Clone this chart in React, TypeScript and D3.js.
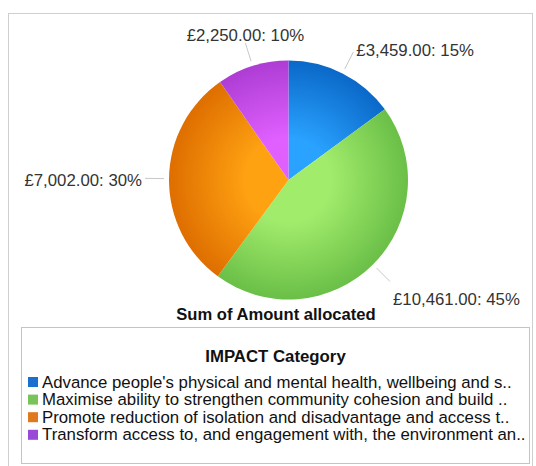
import React from "react";
import * as d3 from "d3";

const categories = [
  "Advance people's physical and mental health, wellbeing and s..",
  "Maximise ability to strengthen community cohesion and build ..",
  "Promote reduction of isolation and disadvantage and access t..",
  "Transform access to, and engagement with, the environment an..",
];
const amounts = [3459, 10461, 7002, 2250];
const sliceInner = ["#2aa2ff", "#a2ec6c", "#ffa212", "#e060ff"];
const sliceOuter = ["#0a68c8", "#6abf47", "#de6e00", "#ae3dd4"];
const legendColors = ["#1a6fcf", "#78c45a", "#e0781e", "#9a48d8"];
const chartTitle = "Sum of Amount allocated";
const legendTitle = "IMPACT Category";

const W = 536;
const H = 466;
const cx = 288.5;
const cy = 180;
const R = 119.5;
const FONT = "'Liberation Sans', Arial, sans-serif";

export default function App() {
  const total = d3.sum(amounts);
  const pie = d3.pie<number>().sort(null).value((d) => d)(amounts);
  const arc = d3.arc<d3.PieArcDatum<number>>().innerRadius(0).outerRadius(R);
  const fmt = d3.format(",.2f");

  return (
    <svg
      width={W}
      height={H}
      style={{ position: "absolute", left: 0, top: 0, background: "#fff" }}
      fontFamily={FONT}
    >
      <defs>
        {amounts.map((_, i) => (
          <radialGradient
            key={i}
            id={`g${i}`}
            gradientUnits="userSpaceOnUse"
            cx={0}
            cy={0}
            r={R}
          >
            <stop offset="0%" stopColor={sliceInner[i]} />
            <stop offset="35%" stopColor={sliceInner[i]} />
            <stop offset="100%" stopColor={sliceOuter[i]} />
          </radialGradient>
        ))}
      </defs>
      <rect x={8.5} y={13.5} width={524} height={470} fill="#fff" stroke="#cfcfcf" />
      <g transform={`translate(${cx},${cy})`}>
        {pie.map((p, i) => (
          <path key={i} d={arc(p) || ""} fill={`url(#g${i})`} />
        ))}
        {pie.map((p, i) => {
          const a = (p.startAngle + p.endAngle) / 2;
          const s = Math.sin(a);
          const c = Math.cos(a);
          const r1 = R + 5;
          const r2 = R + 24;
          const x2 = s * r2;
          const y2 = -c * r2;
          let anchor: "start" | "middle" | "end" = "middle";
          let tx = x2;
          let ty = y2;
          if (Math.abs(s) < 0.35) {
            anchor = "middle";
            ty = y2 + (c > 0 ? -8 : 12);
          } else {
            anchor = s > 0 ? "start" : "end";
            tx = x2 + (s > 0 ? 3 : -3);
            ty = y2 + (c < 0 ? -c * 22 : -c * 4) + 2;
          }
          const pct = Math.round((p.value / total) * 100);
          return (
            <g key={`l${i}`}>
              <line
                x1={s * r1}
                y1={-c * r1}
                x2={x2}
                y2={y2}
                stroke="#c8c8c8"
                strokeWidth={1}
              />
              <text
                x={tx}
                y={ty}
                textAnchor={anchor}
                dominantBaseline="central"
                fontSize={16.8}
                fill="#333"
              >
                {`£${fmt(p.value)}: ${pct}%`}
              </text>
            </g>
          );
        })}
      </g>
      <text
        x={276}
        y={314}
        textAnchor="middle"
        dominantBaseline="central"
        fontSize={16.6}
        fontWeight="bold"
        fill="#111"
      >
        {chartTitle}
      </text>
      <rect x={21.5} y={327.5} width={508} height={136} fill="#fff" stroke="#c4c4c4" />
      <text
        x={275.5}
        y={356}
        textAnchor="middle"
        dominantBaseline="central"
        fontSize={16.8}
        fontWeight="bold"
        fill="#111"
      >
        {legendTitle}
      </text>
      {categories.map((cat, i) => {
        const y = 382 + i * 17.6;
        return (
          <g key={`lg${i}`}>
            <rect x={28} y={y - 5} width={10} height={10} fill={legendColors[i]} />
            <text
              x={42}
              y={y}
              dominantBaseline="central"
              fontSize={16.8}
              fill="#111"
            >
              {cat}
            </text>
          </g>
        );
      })}
    </svg>
  );
}
